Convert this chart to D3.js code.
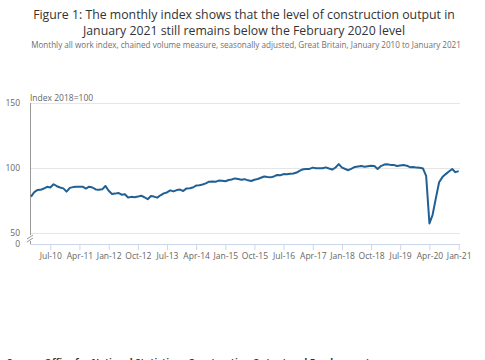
<!DOCTYPE html>
<html>
<head>
<meta charset="utf-8">
<script src="https://cdn.jsdelivr.net/npm/d3@7"></script>
<style>
  body { margin: 0; background: #fff; }
  svg { font-family: "Open Sans", sans-serif; }
</style>
</head>
<body>
<svg id="chart" width="485" height="360"></svg>
<script>
// Monthly all work index, Jan 2010 to Jan 2021 (2018=100)
var startMonth = new Date(2010, 0, 1);
var values = [
  78, 81.5, 83, 83.2, 84.2, 85.5, 85, 87.5, 86, 85, 84.3, 81.8,        // 2010
  84.7, 85.3, 85.5, 85.6, 85.6, 84.2, 85.6, 85, 83.5, 83.3, 83.6, 86.2, // 2011
  82.5, 80, 80.3, 80.8, 79.5, 79.8, 77.3, 77.8, 77.5, 78, 78.7, 77.5,   // 2012
  76, 78.5, 78, 77.2, 79, 80.5, 81.2, 82.8, 82, 83, 83.4, 82.3,         // 2013
  84.3, 84.4, 85, 86.5, 86.8, 87.3, 88.2, 89.5, 89.6, 89.4, 90.3, 90.2, // 2014
  89.8, 90.8, 91.2, 92, 91.5, 91, 91.4, 90.5, 90, 91, 91.5, 92.5,       // 2015
  93.5, 93, 92.8, 93.5, 94.6, 94.4, 95.3, 95.2, 95.6, 95.8, 96.5, 98,   // 2016
  99, 99.2, 99.3, 100.3, 99.8, 99.8, 99.8, 100.5, 99.6, 98.8, 100.4, 103, // 2017
  100.3, 99.2, 98.3, 99.6, 100.8, 101.2, 101.5, 101, 101.4, 101.8, 101.5, 99.2, // 2018
  101.5, 102.6, 102.8, 102.4, 102.4, 101.5, 102, 102.3, 101.8, 100.6, 100.8, 100.3, // 2019
  100.2, 99.6, 94, 57.4, 64, 77, 89, 93, 95.3, 97.3, 99.2, 96.8,        // 2020
  97.6                                                                  // Jan 2021
];
var yTicks = [0, 50, 100, 150];
var xTickLabels = ["Jul-10", "Apr-11", "Jan-12", "Oct-12", "Jul-13", "Apr-14", "Jan-15",
  "Oct-15", "Jul-16", "Apr-17", "Jan-18", "Oct-18", "Jul-19", "Apr-20", "Jan-21"];

var titleLines = [
  "Figure 1: The monthly index shows that the level of construction output in",
  "January 2021 still remains below the February 2020 level"
];
var subtitle = "Monthly all work index, chained volume measure, seasonally adjusted, Great Britain, January 2010 to January 2021";
var source = "Source: Office for National Statistics \u2013 Construction Output and Employment";

var parseMon = d3.timeParse("%b-%y");
var fmtMon = d3.timeFormat("%b-%y");

var data = values.map(function(v, i) {
  return { date: d3.timeMonth.offset(startMonth, i), value: v };
});

var svg = d3.select("#chart");
var left = 30, right = 460;

var x = d3.scaleTime()
  .domain([startMonth, d3.timeMonth.offset(startMonth, values.length - 1)])
  .range([31, 458.7]);

// broken axis: 0 sits just under 50
var y = d3.scaleLinear()
  .domain([0, 50, 150])
  .range([244, 233, 103]);

// titles
svg.selectAll("text.title")
  .data(titleLines)
  .enter().append("text")
  .attr("class", "title")
  .attr("x", 244)
  .attr("y", function(d, i) { return 18.5 + i * 16; })
  .attr("text-anchor", "middle")
  .style("font-size", "12.3px")
  .style("fill", "#333")
  .text(function(d) { return d; });

svg.append("text")
  .attr("x", 246)
  .attr("y", 48)
  .attr("text-anchor", "middle")
  .style("font-size", "8.1px")
  .style("fill", "#707070")
  .text(subtitle);

// gridlines
svg.append("g")
  .selectAll("line")
  .data(yTicks.filter(function(d) { return d > 0; }))
  .enter().append("line")
  .attr("x1", left).attr("x2", right)
  .attr("y1", function(d) { return y(d) + 0.5; })
  .attr("y2", function(d) { return y(d) + 0.5; })
  .style("stroke", "#e6e6e6");

// y axis labels
svg.append("g")
  .selectAll("text")
  .data(yTicks)
  .enter().append("text")
  .attr("x", 20)
  .attr("y", function(d) { return y(d) + 3; })
  .attr("text-anchor", "end")
  .style("font-size", "8.5px")
  .style("fill", "#666")
  .text(function(d) { return d; });

svg.append("text")
  .attr("x", 30)
  .attr("y", 101)
  .style("font-size", "8.5px")
  .style("fill", "#666")
  .text("Index 2018=100");

// y axis line with break
svg.append("line")
  .attr("x1", left + 0.5).attr("x2", left + 0.5)
  .attr("y1", y(150)).attr("y2", y(50) + 2)
  .style("stroke", "#999");
svg.append("line")
  .attr("x1", left + 0.5).attr("x2", left + 0.5)
  .attr("y1", y(0) - 3).attr("y2", y(0))
  .style("stroke", "#999");
svg.append("g")
  .selectAll("line")
  .data([0, 3])
  .enter().append("line")
  .attr("x1", function(d) { return left - 3; })
  .attr("x2", function(d) { return left + 3; })
  .attr("y1", function(d) { return y(50) + 6 + d; })
  .attr("y2", function(d) { return y(50) + 2 + d; })
  .style("stroke", "#999");

// x axis
var xAxis = d3.axisBottom(x)
  .tickValues(xTickLabels.map(parseMon))
  .tickFormat(fmtMon)
  .tickSize(6)
  .tickPadding(3);

var gx = svg.append("g")
  .attr("transform", "translate(0," + y(0) + ")")
  .call(xAxis);
gx.select(".domain").remove();
gx.insert("line", ":first-child")
  .attr("x1", left).attr("x2", right)
  .attr("y1", 0.5).attr("y2", 0.5)
  .style("stroke", "#ccd6eb");
gx.selectAll(".tick line").style("stroke", "#ccd6eb");
gx.selectAll(".tick text")
  .style("font-family", "Open Sans, sans-serif")
  .style("font-size", "8.5px")
  .style("fill", "#666");

// the series
var line = d3.line()
  .x(function(d) { return x(d.date); })
  .y(function(d) { return y(d.value); });

svg.append("path")
  .datum(data)
  .attr("d", line)
  .style("fill", "none")
  .style("stroke", "#206095")
  .style("stroke-width", 2)
  .style("stroke-linejoin", "round");

// source, cut by the bottom edge
svg.append("text")
  .attr("x", 7)
  .attr("y", 365)
  .style("font-size", "9.5px")
  .style("font-weight", "bold")
  .style("fill", "#333")
  .text(source);
</script>
</body>
</html>
